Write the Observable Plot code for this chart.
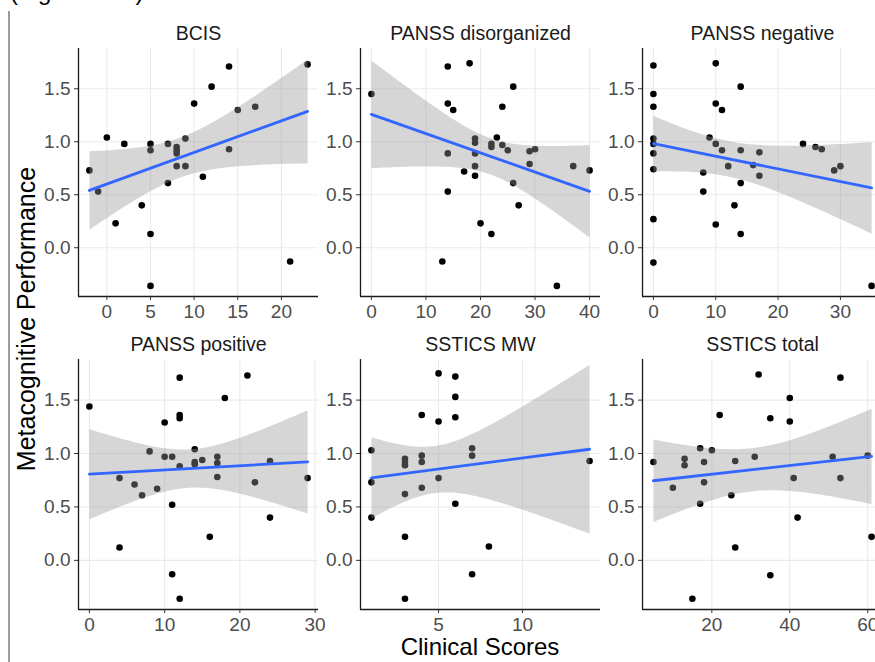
<!DOCTYPE html>
<html>
<head>
<meta charset="utf-8">
<script src="https://cdn.jsdelivr.net/npm/d3@7"></script>
<script src="https://cdn.jsdelivr.net/npm/@observablehq/plot@0.6"></script>
<style>
  html, body { margin: 0; padding: 0; background: #fff; overflow: hidden; }
  #page { position: relative; width: 875px; height: 662px; overflow: hidden;
          font-family: "Liberation Sans", Arial, sans-serif; color: #000; }
  .panel { position: absolute; }
  #caption { position: absolute; left: 10px; top: -20px; font-size: 24px; line-height: 24px; white-space: nowrap; }
  #border { position: absolute; left: 8px; top: 11px; width: 1.5px; height: 651px; background: #9c9c9c; }
  #ylabel { position: absolute; left: -174px; top: 307px; width: 400px; height: 24px; line-height: 24px;
            font-size: 25px; text-align: center; transform: rotate(-90deg); transform-origin: 200px 12px; }
  #xlabel { position: absolute; left: 280px; top: 638px; width: 400px; line-height: 18px;
            font-size: 24px; text-align: center; }
</style>
</head>
<body>
<div id="page">
  <div id="caption">(Figure S10)</div>
  <div id="border"></div>
  <div id="ylabel">Metacognitive Performance</div>
  <div id="xlabel">Clinical Scores</div>
</div>
<script>
// Metacognitive performance against each clinical score, one panel per scale.

const bcisScore = [-2, -1, 0, 1, 2, 4, 5, 5, 5, 5, 7, 7, 8, 8, 8, 8, 9, 9, 10, 11, 12, 14, 14, 15, 17, 21, 23];
const bcisPerf  = [0.73, 0.53, 1.04, 0.23, 0.98, 0.40, 0.98, 0.92, 0.13, -0.36, 0.98, 0.61, 0.95, 0.92, 0.89, 0.77, 1.03, 0.77, 1.36, 0.67, 1.52, 1.71, 0.93, 1.30, 1.33, -0.13, 1.73];

const disorgScore = [0, 13, 14, 14, 14, 14, 15, 17, 18, 19, 19, 19, 19, 19, 20, 22, 22, 22, 23, 24, 24, 25, 26, 26, 27, 29, 29, 30, 34, 37, 40];
const disorgPerf  = [1.45, -0.13, 1.71, 1.36, 0.89, 0.53, 1.30, 0.72, 1.74, 1.03, 0.99, 0.89, 0.77, 0.68, 0.23, 0.98, 0.95, 0.13, 1.04, 1.33, 0.97, 0.92, 1.52, 0.61, 0.40, 0.91, 0.79, 0.93, -0.36, 0.77, 0.73];

const negScore = [0, 0, 0, 0, 0, 0, 0, 0, 0, 8, 8, 9, 10, 10, 10, 10, 11, 11, 12, 13, 14, 14, 14, 14, 16, 17, 17, 24, 26, 27, 29, 30, 35];
const negPerf  = [1.72, 1.45, 1.33, 1.03, 0.98, 0.89, 0.74, 0.27, -0.14, 0.71, 0.53, 1.04, 1.74, 1.36, 0.98, 0.22, 1.30, 0.92, 0.77, 0.40, 1.52, 0.92, 0.61, 0.13, 0.78, 0.90, 0.68, 0.98, 0.95, 0.93, 0.73, 0.77, -0.36];

const posScore = [0, 4, 4, 6, 7, 8, 9, 10, 10, 11, 11, 11, 12, 12, 12, 12, 12, 14, 14, 14, 15, 16, 17, 17, 17, 18, 21, 22, 24, 24, 29];
const posPerf  = [1.44, 0.77, 0.12, 0.71, 0.61, 1.02, 0.67, 1.29, 0.97, 0.97, 0.52, -0.13, 1.71, 1.36, 1.33, 0.88, -0.36, 1.04, 0.92, 0.90, 0.94, 0.22, 0.97, 0.91, 0.78, 1.52, 1.73, 0.73, 0.93, 0.40, 0.77];

const mwScore = [1, 1, 1, 3, 3, 3, 3, 3, 3, 4, 4, 4, 4, 5, 5, 5, 6, 6, 6, 6, 7, 7, 7, 8, 14];
const mwPerf  = [1.03, 0.73, 0.40, -0.36, 0.22, 0.62, 0.95, 0.92, 0.89, 1.36, 0.98, 0.92, 0.68, 1.75, 1.30, 0.77, 1.72, 1.53, 1.34, 0.53, 1.05, 0.98, -0.13, 0.13, 0.93];

const totalScore = [5, 10, 13, 13, 15, 17, 17, 18, 18, 20, 22, 25, 26, 26, 31, 32, 35, 35, 40, 40, 41, 42, 51, 53, 53, 60, 61];
const totalPerf  = [0.92, 0.68, 0.95, 0.89, -0.36, 1.05, 0.53, 0.92, 0.73, 1.03, 1.36, 0.61, 0.93, 0.12, 0.97, 1.74, 1.33, -0.14, 1.52, 1.30, 0.77, 0.40, 0.97, 1.71, 0.77, 0.98, 0.22];

const panelTitles = ["BCIS", "PANSS disorganized", "PANSS negative", "PANSS positive", "SSTICS MW", "SSTICS total"];
const bcisTicks   = [0, 5, 10, 15, 20];
const disorgTicks = [0, 10, 20, 30, 40];
const negTicks    = [0, 10, 20, 30];
const posTicks    = [0, 10, 20, 30];
const mwTicks     = [5, 10];
const totalTicks  = [20, 40, 60];
const perfTicks   = [0, 0.5, 1, 1.5];

// shared y scale across facets (includes the confidence ribbons)
const yDomain = [-0.46, 1.88];

const panels = [
  {title: panelTitles[0], x: bcisScore,   y: bcisPerf,   ticks: bcisTicks},
  {title: panelTitles[1], x: disorgScore, y: disorgPerf, ticks: disorgTicks},
  {title: panelTitles[2], x: negScore,    y: negPerf,    ticks: negTicks},
  {title: panelTitles[3], x: posScore,    y: posPerf,    ticks: posTicks},
  {title: panelTitles[4], x: mwScore,     y: mwPerf,     ticks: mwTicks},
  {title: panelTitles[5], x: totalScore,  y: totalPerf,  ticks: totalTicks}
];

// facet grid geometry: plot-area left edges per column, top edges and heights per row
const colLeft = [78, 360, 642];
const rowTop = [48, 359];
const rowHeight = [248, 250];
const areaWidth = 240;
const ML = 44, MR = 12, MT = 32, MB = 34;
const font = "'Liberation Sans', Arial, sans-serif";

const page = document.getElementById("page");

panels.forEach((p, i) => {
  const col = i % 3, row = Math.floor(i / 3);
  const pts = p.x.map((v, k) => ({score: v, perf: p.y[k]}));
  const [lo, hi] = d3.extent(p.x);
  const pad = (hi - lo) * 0.05;
  const xDomain = [lo - pad, hi + pad];
  const H = rowHeight[row];

  const chart = Plot.plot({
    width: ML + areaWidth + MR,
    height: MT + H + MB,
    marginLeft: ML, marginRight: MR, marginTop: MT, marginBottom: MB,
    style: {fontFamily: font, fontSize: "19px", background: "transparent", overflow: "visible", maxWidth: "none"},
    x: {domain: xDomain},
    y: {domain: yDomain},
    marks: [
      Plot.gridX(p.ticks, {stroke: "#ebebeb", strokeOpacity: 1, strokeWidth: 1.1}),
      Plot.gridY(perfTicks, {stroke: "#ebebeb", strokeOpacity: 1, strokeWidth: 1.1}),
      Plot.dot(pts, {x: "score", y: "perf", r: 3.3, fill: "#000"}),
      Plot.linearRegressionY(pts, {x: "score", y: "perf", ci: 0.95,
        stroke: "#3366ff", strokeWidth: 2.8, fill: "#999999", fillOpacity: 0.4}),
      Plot.ruleX([xDomain[0]], {stroke: "#1a1a1a", strokeWidth: 1.3}),
      Plot.ruleY([yDomain[0]], {stroke: "#1a1a1a", strokeWidth: 1.3}),
      Plot.axisX(p.ticks, {tickSize: 4, tickPadding: 4, fill: "#4d4d4d", stroke: "#333",
        fontSize: 19, label: null}),
      Plot.axisY(perfTicks, {tickSize: 4, tickPadding: 4, tickFormat: d3.format(".1f"),
        fill: "#4d4d4d", stroke: "#333", fontSize: 19, label: null}),
      Plot.text([p.title], {text: d => d, frameAnchor: "top", dy: -9, lineAnchor: "bottom",
        fontSize: 19.5, fill: "#1a1a1a"})
    ]
  });

  const holder = document.createElement("div");
  holder.className = "panel";
  holder.style.left = (colLeft[col] - ML) + "px";
  holder.style.top = (rowTop[row] - MT) + "px";
  holder.style.width = (ML + areaWidth + MR) + "px";
  holder.appendChild(chart);
  page.appendChild(holder);
});
</script>
</body>
</html>
